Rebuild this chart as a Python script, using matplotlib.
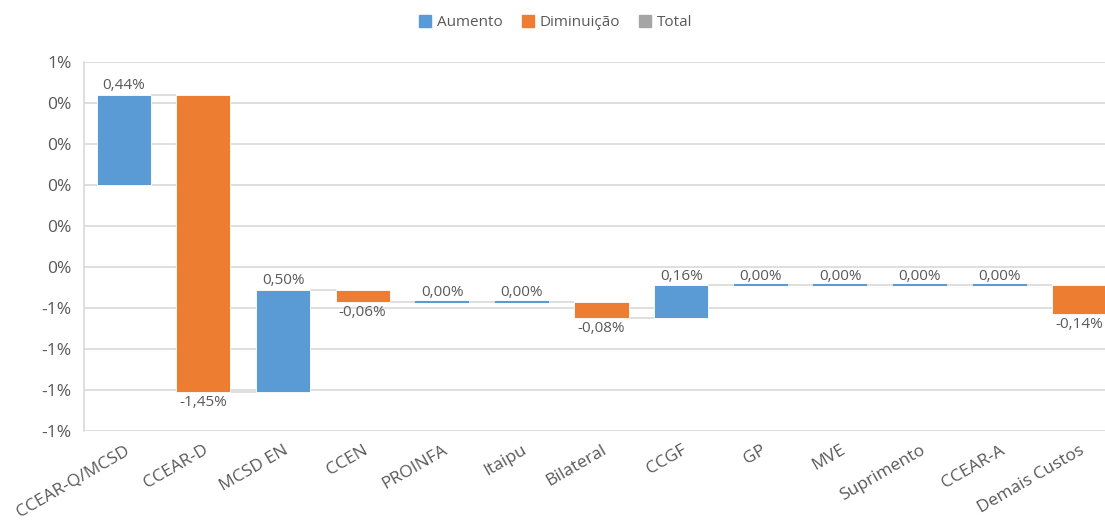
import numpy as np
import matplotlib.pyplot as plt
from matplotlib.patches import Patch
from matplotlib.ticker import FuncFormatter

plt.rcParams['font.family'] = ['Open Sans', 'DejaVu Sans']

categories = ['CCEAR-Q/MCSD', 'CCEAR-D', 'MCSD EN', 'CCEN', 'PROINFA', 'Itaipu',
              'Bilateral', 'CCGF', 'GP', 'MVE', 'Suprimento', 'CCEAR-A', 'Demais Custos']
deltas = [0.44, -1.45, 0.50, -0.06, 0.00, 0.00, -0.08, 0.16, 0.00, 0.00, 0.00, 0.00, -0.14]
y_ticks = [0.6, 0.4, 0.2, 0.0, -0.2, -0.4, -0.6, -0.8, -1.0, -1.2]

blue = '#5B9BD5'
orange = '#ED7D31'
gray = '#A5A5A5'
text_col = '#595959'
grid_col = '#D9D9D9'

deltas = np.array(deltas)
ends = np.cumsum(deltas)
starts = ends - deltas
x = np.arange(len(categories))
width = 0.68

fig = plt.figure(figsize=(11.05, 5.21), dpi=100)
# plot area runs a bit past the right edge, as in the reference crop
ax = fig.add_axes([0.076, 0.1727, 0.9367, 0.7083])

colors = [blue if d >= 0 else orange for d in deltas]
for i in range(len(x)):
    if deltas[i] == 0:
        ax.hlines(starts[i], x[i] - width / 2, x[i] + width / 2, color=blue, lw=1.5, zorder=3)
    else:
        ax.bar(x[i], deltas[i], bottom=starts[i], width=width, color=colors[i],
               edgecolor='white', linewidth=0.6, zorder=3)

# connectors
for i in range(len(x) - 1):
    ax.hlines(ends[i], x[i] + width / 2, x[i + 1] - width / 2, color=grid_col, lw=1.2, zorder=2)

# labels
for i in range(len(x)):
    lbl = f'{deltas[i]:.2f}%'.replace('.', ',')
    if deltas[i] >= 0:
        ax.annotate(lbl, (x[i], max(starts[i], ends[i])), xytext=(0, 1), textcoords='offset points',
                    ha='center', va='bottom', fontsize=11, color=text_col)
    else:
        ax.annotate(lbl, (x[i], min(starts[i], ends[i])), xytext=(0, -2), textcoords='offset points',
                    ha='center', va='top', fontsize=11, color=text_col)

ax.set_xlim(-0.5, len(x) - 0.5)
ax.set_ylim(-1.2, 0.6)
ax.set_yticks(y_ticks)
ax.yaxis.set_major_formatter(FuncFormatter(lambda v, p: f'{int(round(v))}%'))
ax.grid(axis='y', color=grid_col, lw=1.2, zorder=0)
ax.set_xticks(x)
ax.set_xticklabels(categories, rotation=30, ha='right', rotation_mode='anchor')
ax.tick_params(axis='both', length=0, labelsize=12.5, colors=text_col)
ax.tick_params(axis='x', pad=8)
ax.tick_params(axis='y', pad=9)
for s in ['top', 'right', 'bottom']:
    ax.spines[s].set_visible(False)
ax.spines['left'].set_color(grid_col)
ax.spines['left'].set_linewidth(1.2)

handles = [Patch(color=blue, label='Aumento'), Patch(color=orange, label='Diminuição'),
           Patch(color=gray, label='Total')]
fig.legend(handles=handles, loc='center', bbox_to_anchor=(0.503, 0.957), ncol=3, frameon=False,
           fontsize=11, labelcolor=text_col, handlelength=0.8, handleheight=0.8,
           handletextpad=0.4, columnspacing=1.2)

fig.savefig('out.png', dpi=100)
